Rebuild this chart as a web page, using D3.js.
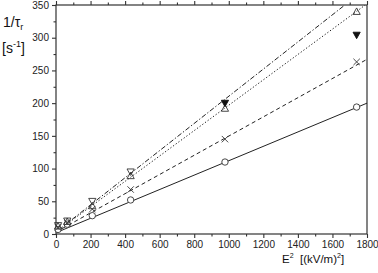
<!DOCTYPE html>
<html><head><meta charset="utf-8">
<script src="https://cdn.jsdelivr.net/npm/d3@7"></script>
<style>body{margin:0;background:#fff}svg{display:block;font-family:"Liberation Sans",Arial,sans-serif}</style>
</head><body><svg id="c" width="378" height="273"></svg>
<script>
// Data
const xTicks = [0,200,400,600,800,1000,1200,1400,1600,1800];
const yTicks = [0,50,100,150,200,250,300,350];

const circleX = [12, 65, 210, 432, 978, 1740];
const circleY = [7, 15, 28, 52, 110, 194];
const crossX = [12, 65, 210, 432, 978, 1740];
const crossY = [10, 17, 38, 68, 145, 263];
const upX = [12, 65, 210, 432, 978, 1740];
const upY = [12, 19, 43, 89, 192, 340];
const downOpenX = [12, 65, 210, 432];
const downOpenY = [13, 20, 50, 95];
const downFilledX = [978, 1740];
const downFilledY = [200, 304];

// fitted lines
const solidLineX = [0, 1800];
const solidLineY = [2, 200];
const dashedLineX = [0, 1800];
const dashedLineY = [3, 267];
const dottedLineX = [0, 1790];
const dottedLineY = [3, 350];
const dashDotLineX = [0, 1672];
const dashDotLineY = [3, 350];

const svg = d3.select("#c");
const L = 56, R = 367, T = 5, B = 234;
const x = d3.scaleLinear().domain([0,1800]).range([L,R]);
const y = d3.scaleLinear().domain([0,350]).range([B,T]);

const zip = (a,b) => a.map((v,i)=>[v,b[i]]);

// frame
svg.append("rect").attr("x",L).attr("y",T).attr("width",R-L).attr("height",B-T)
  .attr("fill","none").attr("stroke","#333").attr("stroke-width",1.2);

// bottom axis
svg.append("g").attr("transform",`translate(0,${B})`)
  .call(d3.axisBottom(x).tickValues(xTicks).tickSize(4).tickFormat(d3.format("d")));
svg.append("g").attr("transform",`translate(0,${B})`)
  .call(d3.axisBottom(x).tickValues(d3.range(100,1800,200)).tickSize(2.5).tickFormat(""));
// top axis ticks
svg.append("g").attr("transform",`translate(0,${T})`)
  .call(d3.axisTop(x).tickValues(xTicks).tickSize(4).tickFormat(""));
svg.append("g").attr("transform",`translate(0,${T})`)
  .call(d3.axisTop(x).tickValues(d3.range(100,1800,200)).tickSize(2.5).tickFormat(""));
// left axis
svg.append("g").attr("transform",`translate(${L},0)`)
  .call(d3.axisLeft(y).tickValues(yTicks).tickSize(4).tickFormat(d3.format("d")));
svg.append("g").attr("transform",`translate(${L},0)`)
  .call(d3.axisLeft(y).tickValues(d3.range(25,350,50)).tickSize(2.5).tickFormat(""));

svg.selectAll(".domain").remove();
svg.selectAll(".tick line").attr("stroke","#333").attr("stroke-width",1.1);
svg.selectAll(".tick text").attr("font-size",10).attr("fill","#222")
  .attr("font-family","Liberation Sans, Arial, sans-serif");

// lines
const line = d3.line().x(d=>x(d[0])).y(d=>y(d[1]));
svg.append("clipPath").attr("id","cp").append("rect")
  .attr("x",L).attr("y",T).attr("width",R-L).attr("height",B-T);
const lg = svg.append("g").attr("clip-path","url(#cp)");
function drawLine(xs, ys, dash){
  lg.append("path").datum(zip(xs,ys)).attr("d",line).attr("fill","none")
    .attr("stroke","#222").attr("stroke-width",1).attr("stroke-dasharray",dash);
}
drawLine(solidLineX, solidLineY, null);
drawLine(dashedLineX, dashedLineY, "4,3");
drawLine(dottedLineX, dottedLineY, "1.3,2");
drawLine(dashDotLineX, dashDotLineY, "5,2,1.3,2");

// markers
const mg = svg.append("g");
zip(circleX,circleY).forEach(d=>{
  mg.append("circle").attr("cx",x(d[0])).attr("cy",y(d[1])).attr("r",3.2)
    .attr("fill","#fff").attr("stroke","#333").attr("stroke-width",0.9);
});
zip(crossX,crossY).forEach(d=>{
  const cx=x(d[0]), cy=y(d[1]), s=3.2;
  mg.append("path").attr("d",`M${cx-s},${cy-s}L${cx+s},${cy+s}M${cx-s},${cy+s}L${cx+s},${cy-s}`)
    .attr("stroke","#333").attr("stroke-width",0.9);
});
const tri = (cx,cy,s,up) => up
  ? `M${cx},${cy-s}L${cx+s},${cy+s*0.8}L${cx-s},${cy+s*0.8}Z`
  : `M${cx},${cy+s}L${cx+s},${cy-s*0.8}L${cx-s},${cy-s*0.8}Z`;
zip(upX,upY).forEach(d=>{
  mg.append("path").attr("d",tri(x(d[0]),y(d[1]),3.6,true))
    .attr("fill","none").attr("stroke","#333").attr("stroke-width",0.9);
});
zip(downOpenX,downOpenY).forEach(d=>{
  mg.append("path").attr("d",tri(x(d[0]),y(d[1]),3.6,false))
    .attr("fill","none").attr("stroke","#333").attr("stroke-width",0.9);
});
zip(downFilledX,downFilledY).forEach(d=>{
  mg.append("path").attr("d",tri(x(d[0]),y(d[1]),3.6,false))
    .attr("fill","#111").attr("stroke","#111").attr("stroke-width",0.9);
});

// axis titles
const yt = svg.append("text").attr("x",3).attr("y",27).attr("font-size",14).attr("fill","#111");
yt.append("tspan").text("1/τ");
yt.append("tspan").attr("dy",3).attr("font-size",9).text("r");
const yu = svg.append("text").attr("x",2).attr("y",53).attr("font-size",14).attr("fill","#111");
yu.append("tspan").text("[s");
yu.append("tspan").attr("dy",-6).attr("font-size",9).text("-1");
yu.append("tspan").attr("dy",6).text("]");

const xt = svg.append("text").attr("x",282).attr("y",263).attr("font-size",11.5).attr("fill","#111");
xt.append("tspan").text("E");
xt.append("tspan").attr("dy",-5).attr("font-size",7).text("2");
xt.append("tspan").attr("dy",5).text("\u00a0\u00a0[(kV/m)");
xt.append("tspan").attr("dy",-5).attr("font-size",7).text("2");
xt.append("tspan").attr("dy",5).text("]");
</script></body></html>
